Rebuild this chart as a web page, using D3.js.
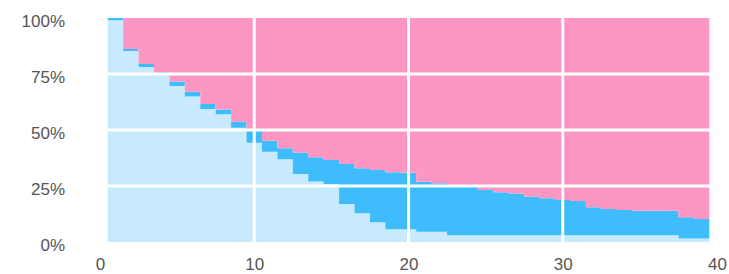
<!DOCTYPE html>
<html>
<head>
<meta charset="utf-8">
<script src="https://cdnjs.cloudflare.com/ajax/libs/d3/7.8.5/d3.min.js"></script>
<style>
  body { margin: 0; background: #fff; }
  svg text { font-family: "Liberation Sans", Arial, sans-serif; }
</style>
</head>
<body>
<svg width="729" height="274"></svg>
<script>
var svg = d3.select('svg');

// categories (one step each, centred on the value)
var steps = [1,2,3,4,5,6,7,8,9,10,11,12,13,14,15,16,17,18,19,20,
             21,22,23,24,25,26,27,28,29,30,31,32,33,34,35,36,37,38,39];

// share of each group in percent
var lightShare = [99.0,85.3,78.1,75.5,69.6,64.9,59.4,57.0,51.0,44.3,
                  40.3,36.9,30.4,27.0,25.8,17.0,12.8,8.8,5.7,5.7,
                  4.6,4.6,3.0,3.0,3.0,3.0,3.0,3.0,3.0,3.0,
                  3.0,3.0,3.0,3.0,3.0,3.0,3.0,1.6,1.6];
var blueShare  = [1.0,0.9,1.4,0.3,2.0,2.2,2.2,2.2,2.7,5.7,
                  4.9,4.9,9.6,10.8,10.8,17.8,20.1,23.3,25.4,25.2,
                  22.3,21.6,22.0,21.8,20.2,19.2,18.7,17.2,16.5,15.8,
                  15.3,12.5,11.7,11.3,11.0,11.0,11.0,9.4,8.7];
var pinkShare  = [0.0,13.8,20.5,24.2,28.4,32.9,38.4,40.8,46.3,50.0,
                  54.8,58.2,60.0,62.2,63.4,65.2,67.1,67.9,68.9,69.1,
                  73.1,73.8,75.0,75.2,76.8,77.8,78.3,79.8,80.5,81.2,
                  81.7,84.5,85.3,85.7,86.0,86.0,86.0,89.0,89.7];

var xTicks = [0, 10, 20, 30, 40];
var yTicks = [0, 0.25, 0.5, 0.75, 1];

var keys = ['light', 'blue', 'pink'];
var colors = {light: '#c7ebfc', blue: '#3ebcfc', pink: '#fd96c2'};

//scales
var scaleX = d3.scaleLinear().domain([0, 40]).range([100, 717]);
var scaleY = d3.scaleLinear().domain([0, 1]).range([242, 18]);

//build rows, each step starts half a unit left of its value
var rows = steps.map(function(s, i){
    return {x: s - 0.5, light: lightShare[i] / 100, blue: blueShare[i] / 100, pink: pinkShare[i] / 100};
});
//closing point so the last step keeps its width
var last = rows[rows.length - 1];
rows.push({x: steps[steps.length - 1] + 0.5, light: last.light, blue: last.blue, pink: last.pink});

var stacked = d3.stack().keys(keys)(rows);

var area = d3.area()
    .curve(d3.curveStepAfter)
    .x(function(d){ return scaleX(d.data.x); })
    .y0(function(d){ return scaleY(d[0]); })
    .y1(function(d){ return scaleY(d[1]); });

svg.append('g').selectAll('path')
    .data(stacked)
    .enter()
    .append('path')
    .attr('d', area)
    .attr('fill', function(d){ return colors[d.key]; });

//white grid on top of the areas
var grid = svg.append('g').attr('stroke', '#fff').attr('stroke-width', 3);

grid.selectAll('.vline')
    .data(xTicks.filter(function(t){ return t > 0 && t < 40; }))
    .enter()
    .append('line')
    .attr('x1', function(d){ return scaleX(d); })
    .attr('x2', function(d){ return scaleX(d); })
    .attr('y1', scaleY(1))
    .attr('y2', scaleY(0));

grid.selectAll('.hline')
    .data(yTicks.filter(function(t){ return t > 0 && t < 1; }))
    .enter()
    .append('line')
    .attr('x1', scaleX(0.5))
    .attr('x2', scaleX(39.5))
    .attr('y1', function(d){ return scaleY(d); })
    .attr('y2', function(d){ return scaleY(d); });

// y axis
var yAxis = svg.append('g')
    .attr('transform', 'translate(65,0)')
    .call(d3.axisLeft(scaleY).tickValues(yTicks).tickSize(0).tickPadding(0)
        .tickFormat(function(d){ return Math.round(d * 100) + '%'; }));

// x axis
var xAxis = svg.append('g')
    .attr('transform', 'translate(0,242)')
    .call(d3.axisBottom(scaleX).tickValues(xTicks).tickSize(0).tickPadding(16)
        .tickFormat(d3.format('d')));

svg.selectAll('.domain').remove();
yAxis.selectAll('text').attr('dy', '0.5em');
svg.selectAll('.tick text')
    .attr('fill', '#555')
    .attr('font-size', 17)
    .attr('font-family', '"Liberation Sans", Arial, sans-serif');
</script>
</body>
</html>
